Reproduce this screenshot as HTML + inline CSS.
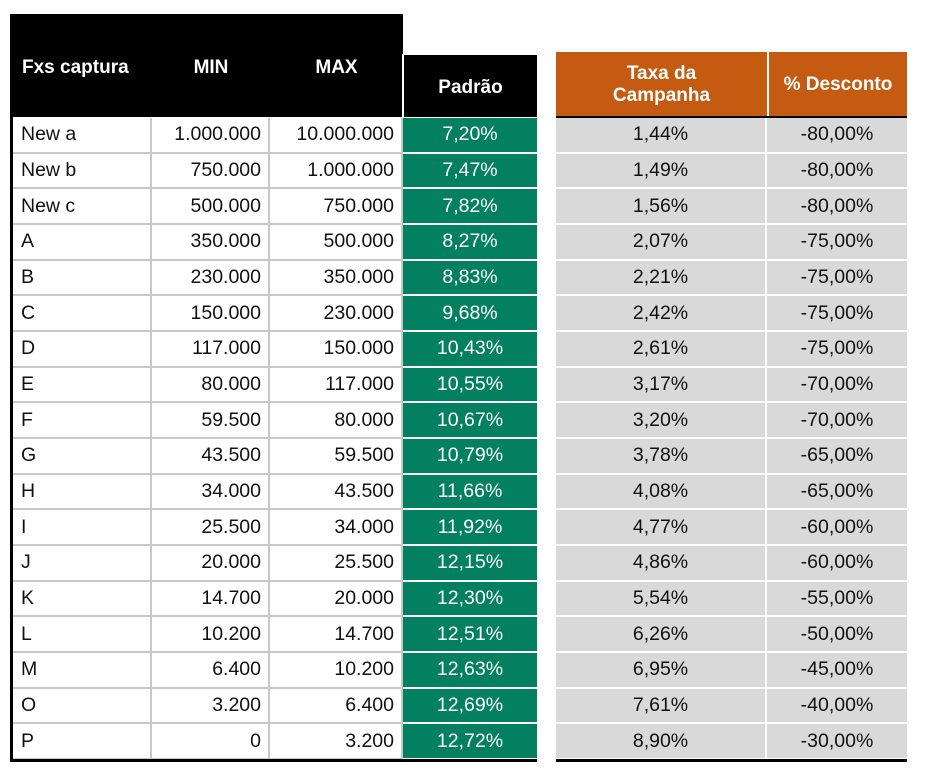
<!DOCTYPE html>
<html><head><meta charset="utf-8"><style>
body{margin:0;width:926px;height:772px;background:#fff;position:relative;font-family:"Liberation Sans",sans-serif;overflow:hidden}
.a{position:absolute;box-sizing:border-box}
.h{color:#fff;font-weight:bold;font-size:19px;display:flex;align-items:center;justify-content:center;text-align:center;line-height:22px}
.c{font-size:19.5px;color:#111;display:flex;align-items:center}
</style></head><body>
<div class="a" style="left:10px;top:14px;width:393px;height:103px;background:#000"></div>
<div class="a h" style="left:12px;top:50px;width:140px;height:36px;justify-content:flex-start;padding-left:10px">Fxs captura</div>
<div class="a h" style="left:152px;top:50px;width:118px;height:36px">MIN</div>
<div class="a h" style="left:270px;top:50px;width:133px;height:36px">MAX</div>
<div class="a" style="left:402px;top:54px;width:2px;height:63px;background:#fff"></div>
<div class="a h" style="left:404px;top:55px;width:133px;height:62px;background:#000;padding-top:4px">Padrão</div>
<div class="a h" style="left:556px;top:52px;width:211px;height:65px;background:#C55A11">Taxa da<br>Campanha</div>
<div class="a h" style="left:769px;top:52px;width:138px;height:65px;background:#C55A11">% Desconto</div>
<div class="a" style="left:556px;top:116px;width:351px;height:2px;background:#000"></div>
<div id="rows"></div>
<div class="a" style="left:10px;top:117px;width:3px;height:645px;background:#000"></div>
<div class="a" style="left:10px;top:759px;width:527px;height:3px;background:#000"></div>
<div class="a" style="left:556px;top:759px;width:351px;height:3px;background:#000"></div>
<script>
const labels=["New a","New b","New c","A","B","C","D","E","F","G","H","I","J","K","L","M","O","P"];
const mins=["1.000.000","750.000","500.000","350.000","230.000","150.000","117.000","80.000","59.500","43.500","34.000","25.500","20.000","14.700","10.200","6.400","3.200","0"];
const maxs=["10.000.000","1.000.000","750.000","500.000","350.000","230.000","150.000","117.000","80.000","59.500","43.500","34.000","25.500","20.000","14.700","10.200","6.400","3.200"];
const padrao=["7,20%","7,47%","7,82%","8,27%","8,83%","9,68%","10,43%","10,55%","10,67%","10,79%","11,66%","11,92%","12,15%","12,30%","12,51%","12,63%","12,69%","12,72%"];
const taxa=["1,44%","1,49%","1,56%","2,07%","2,21%","2,42%","2,61%","3,17%","3,20%","3,78%","4,08%","4,77%","4,86%","5,54%","6,26%","6,95%","7,61%","8,90%"];
const desc=["-80,00%","-80,00%","-80,00%","-75,00%","-75,00%","-75,00%","-75,00%","-70,00%","-70,00%","-65,00%","-65,00%","-60,00%","-60,00%","-55,00%","-50,00%","-45,00%","-40,00%","-30,00%"];
const R=document.getElementById('rows');
const top0=118,rh=35.67;
function cell(x,w,y,text,style,name){
  const d=document.createElement('div');
  d.className='a c';
  
  
  d.style.cssText=`left:${x}px;top:${y}px;width:${w}px;height:${rh}px;`+style;
  d.textContent=text;R.appendChild(d);
}
labels.forEach((l,i)=>{
  const y=top0+i*rh;
  const bl='border-bottom:2px solid #c8c8c8;border-right:2px solid #c8c8c8;';
  cell(12,140,y,l,bl+'padding-left:9px;','row-label');
  cell(152,118,y,mins[i],bl+'justify-content:flex-end;padding-right:7px;','row-min');
  cell(270,133,y,maxs[i],bl+'justify-content:flex-end;padding-right:7px;','row-max');
  cell(403,134,y,padrao[i],'background:#03805F;color:#fff;justify-content:center;border-bottom:2px solid #fff;','row-padrao');
  cell(556,211,y,taxa[i],'background:#d9d9d9;justify-content:center;border-bottom:2px solid #fff;border-right:2px solid #fff;','row-taxa');
  cell(767,140,y,desc[i],'background:#d9d9d9;justify-content:center;border-bottom:2px solid #fff;','row-desconto');
});
</script>
</body></html>
